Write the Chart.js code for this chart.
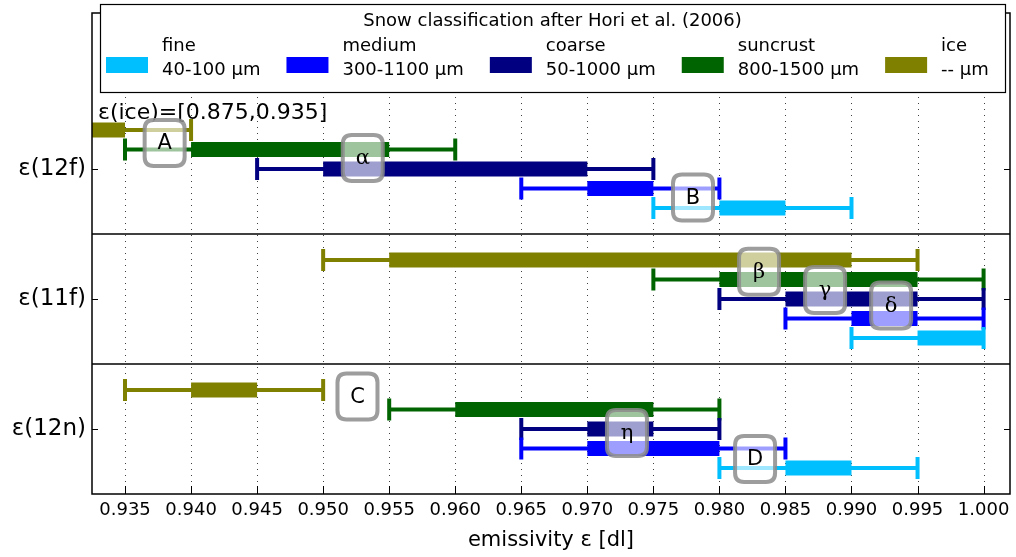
<!DOCTYPE html>
<html>
<head>
<meta charset="utf-8">
<script src="https://cdn.jsdelivr.net/npm/chart.js@4.4.0/dist/chart.umd.min.js"></script>
<style>
  html, body { margin: 0; padding: 0; background: #fff; }
  #wrap { width: 1016px; height: 557px; position: relative; }
</style>
</head>
<body>
<div id="wrap"><canvas id="chart"></canvas></div>
<script>
// categories on the y axis, top to bottom
const categories = ['ε(12f)', 'ε(11f)', 'ε(12n)'];
// snow classes (legend order)
const classNames = ['fine', 'medium', 'coarse', 'suncrust', 'ice'];
const classSizes = ['40-100 μm', '300-1100 μm', '50-1000 μm', '800-1500 μm', '-- μm'];
const classColors = ['#00bfff', '#0000ff', '#000080', '#006400', '#808000'];

// [whisker low, box low, box high, whisker high] for 12f, 11f, 12n
const fineVals     = [[0.975, 0.980, 0.985, 0.990], [0.990, 0.995, 1.000, 1.000], [0.980, 0.985, 0.990, 0.995]];
const mediumVals   = [[0.965, 0.970, 0.975, 0.980], [0.985, 0.990, 0.995, 1.000], [0.965, 0.970, 0.980, 0.985]];
const coarseVals   = [[0.945, 0.950, 0.970, 0.975], [0.980, 0.985, 0.995, 1.000], [0.965, 0.970, 0.975, 0.980]];
const suncrustVals = [[0.935, 0.940, 0.955, 0.960], [0.975, 0.980, 0.995, 1.000], [0.955, 0.960, 0.975, 0.980]];
const iceVals      = [[0.875, 0.875, 0.935, 0.940], [0.950, 0.955, 0.990, 0.995], [0.935, 0.940, 0.945, 0.950]];

const xTicks = [0.935, 0.940, 0.945, 0.950, 0.955, 0.960, 0.965, 0.970, 0.975, 0.980, 0.985, 0.990, 0.995, 1.000];

// boxed labels (data coordinates)
const markerText = ['A', 'α', 'B', 'β', 'γ', 'δ', 'C', 'η', 'D'];
const markerX = [0.938, 0.953, 0.978, 0.983, 0.988, 0.993, 0.9526, 0.973, 0.9827];
const markerY = [-0.20, -0.085, 0.22, 0.79, 0.93, 1.05, 1.75, 2.03, 2.23];

const iceNote = 'ε(ice)=[0.875,0.935]';

const seriesVals = [fineVals, mediumVals, coarseVals, suncrustVals, iceVals];
const datasets = [];
seriesVals.forEach((vals, i) => {
  vals.forEach((v, c) => {
    const y = c + (2 - i) * 0.15;
    // thick inner bar
    datasets.push({
      data: [{x: v[1], y: y}, {x: v[2], y: y}],
      borderColor: classColors[i],
      borderWidth: 15,
      borderCapStyle: 'butt',
      showLine: true,
      pointRadius: 0,
      order: 1
    });
    // whisker with end caps
    datasets.push({
      data: [{x: v[0], y: y}, {x: v[3], y: y}],
      borderColor: classColors[i],
      borderWidth: 4,
      showLine: true,
      pointStyle: 'line',
      pointRotation: 90,
      pointRadius: 11,
      pointBorderWidth: 4,
      pointBorderColor: classColors[i],
      order: 2
    });
  });
});

function roundBox(ctx, x, y, w, h, r) {
  ctx.beginPath();
  ctx.moveTo(x + r, y);
  ctx.lineTo(x + w - r, y);
  ctx.quadraticCurveTo(x + w, y, x + w, y + r);
  ctx.lineTo(x + w, y + h - r);
  ctx.quadraticCurveTo(x + w, y + h, x + w - r, y + h);
  ctx.lineTo(x + r, y + h);
  ctx.quadraticCurveTo(x, y + h, x, y + h - r);
  ctx.lineTo(x, y + r);
  ctx.quadraticCurveTo(x, y, x + r, y);
  ctx.closePath();
}

const decorations = {
  id: 'decorations',
  beforeDatasetsDraw(chart) {
    const {ctx, chartArea: a, scales: {x, y}} = chart;
    ctx.save();
    // dotted vertical grid
    ctx.strokeStyle = 'rgba(0,0,0,0.75)';
    ctx.lineWidth = 1;
    ctx.setLineDash([1, 5]);
    xTicks.forEach(v => {
      const px = Math.round(x.getPixelForValue(v)) + 0.5;
      ctx.beginPath();
      ctx.moveTo(px, a.top);
      ctx.lineTo(px, a.bottom);
      ctx.stroke();
    });
    ctx.setLineDash([]);
    // separators between the groups
    ctx.strokeStyle = '#000';
    ctx.lineWidth = 1.5;
    [0.5, 1.5].forEach(v => {
      const py = y.getPixelForValue(v);
      ctx.beginPath();
      ctx.moveTo(a.left, py);
      ctx.lineTo(a.right, py);
      ctx.stroke();
    });
    ctx.restore();
  },
  afterDatasetsDraw(chart) {
    const {ctx, chartArea: a, scales: {x, y}} = chart;
    ctx.save();
    // frame and inward ticks
    ctx.strokeStyle = '#000';
    ctx.lineWidth = 1.5;
    ctx.strokeRect(a.left, a.top, a.right - a.left, a.bottom - a.top);
    ctx.lineWidth = 1;
    xTicks.forEach(v => {
      const px = Math.round(x.getPixelForValue(v)) + 0.5;
      ctx.beginPath();
      ctx.moveTo(px, a.bottom);
      ctx.lineTo(px, a.bottom - 8);
      ctx.moveTo(px, a.top);
      ctx.lineTo(px, a.top + 8);
      ctx.stroke();
    });
    categories.forEach((c, i) => {
      const py = Math.round(y.getPixelForValue(i)) + 0.5;
      ctx.beginPath();
      ctx.moveTo(a.left, py);
      ctx.lineTo(a.left + 6, py);
      ctx.moveTo(a.right, py);
      ctx.lineTo(a.right - 6, py);
      ctx.stroke();
    });

    // note about ice values off scale
    ctx.fillStyle = '#000';
    ctx.font = '22px "DejaVu Sans"';
    ctx.textAlign = 'left';
    ctx.textBaseline = 'middle';
    ctx.fillText(iceNote, a.left + 6, y.getPixelForValue(-0.43));

    // boxed markers
    markerText.forEach((t, i) => {
      const cx = x.getPixelForValue(markerX[i]);
      const cy = y.getPixelForValue(markerY[i]);
      const w = 40, h = 46;
      roundBox(ctx, cx - w / 2, cy - h / 2, w, h, 9);
      ctx.fillStyle = 'rgba(255,255,255,0.62)';
      ctx.fill();
      ctx.strokeStyle = 'rgba(140,140,140,0.85)';
      ctx.lineWidth = 4;
      ctx.stroke();
      ctx.fillStyle = '#000';
      ctx.textAlign = 'center';
      ctx.textBaseline = 'middle';
      ctx.font = /[A-Z]/.test(t) ? '21px "DejaVu Sans"' : '21px "DejaVu Serif"';
      ctx.fillText(t, cx, cy + 1);
    });
    ctx.restore();
  },
  afterDraw(chart) {
    const {ctx} = chart;
    ctx.save();
    // legend box
    const lx = 100, ly = 4, lw = 905, lh = 88;
    ctx.fillStyle = '#fff';
    ctx.fillRect(lx, ly, lw, lh);
    ctx.strokeStyle = '#000';
    ctx.lineWidth = 1.2;
    ctx.strokeRect(lx + 0.5, ly + 0.5, lw, lh);
    ctx.fillStyle = '#000';
    ctx.font = '18px "DejaVu Sans"';
    ctx.textAlign = 'center';
    ctx.textBaseline = 'middle';
    ctx.fillText('Snow classification after Hori et al. (2006)', lx + lw / 2, ly + 17);
    ctx.textAlign = 'left';
    let sx = 106;
    classNames.forEach((n, i) => {
      ctx.fillStyle = classColors[i];
      ctx.fillRect(sx, 57, 42, 16);
      ctx.fillStyle = '#000';
      const tx = sx + 56;
      ctx.fillText(n, tx, 46);
      ctx.fillText(classSizes[i], tx, 70);
      const tw = Math.max(ctx.measureText(n).width, ctx.measureText(classSizes[i]).width);
      sx = tx + tw + 26;
    });
    ctx.restore();
  }
};

Chart.defaults.font.family = '"DejaVu Sans", sans-serif';
Chart.defaults.color = '#000';

new Chart(document.getElementById('chart'), {
  type: 'scatter',
  data: { datasets: datasets },
  options: {
    responsive: true,
    maintainAspectRatio: false,
    animation: false,
    layout: { autoPadding: false, padding: { top: 13, right: 6, left: 0, bottom: 0 } },
    plugins: {
      legend: { display: false },
      tooltip: { enabled: false }
    },
    elements: { line: { tension: 0 } },
    scales: {
      x: {
        type: 'linear',
        min: 0.9325,
        max: 1.002,
        afterBuildTicks: s => { s.ticks = xTicks.map(v => ({value: v})); },
        afterFit: s => { s.height = 63; s.paddingLeft = 0; s.paddingRight = 0; },
        grid: { display: false, drawTicks: false },
        border: { display: false },
        ticks: {
          autoSkip: false,
          maxRotation: 0,
          padding: 6,
          font: { size: 18 },
          callback: v => v.toFixed(3)
        },
        title: {
          display: true,
          text: 'emissivity ε [dl]',
          font: { size: 21 },
          padding: { top: 0, bottom: 4 }
        }
      },
      y: {
        type: 'linear',
        reverse: true,
        min: -1.2,
        max: 2.5,
        afterBuildTicks: s => { s.ticks = categories.map((c, i) => ({value: i})); },
        afterFit: s => { s.width = 92; s.paddingTop = 0; s.paddingBottom = 0; },
        grid: { display: false, drawTicks: false },
        border: { display: false },
        ticks: {
          padding: 6,
          font: { size: 23 },
          callback: v => categories[Math.round(v)]
        }
      }
    }
  },
  plugins: [decorations]
});
</script>
</body>
</html>
